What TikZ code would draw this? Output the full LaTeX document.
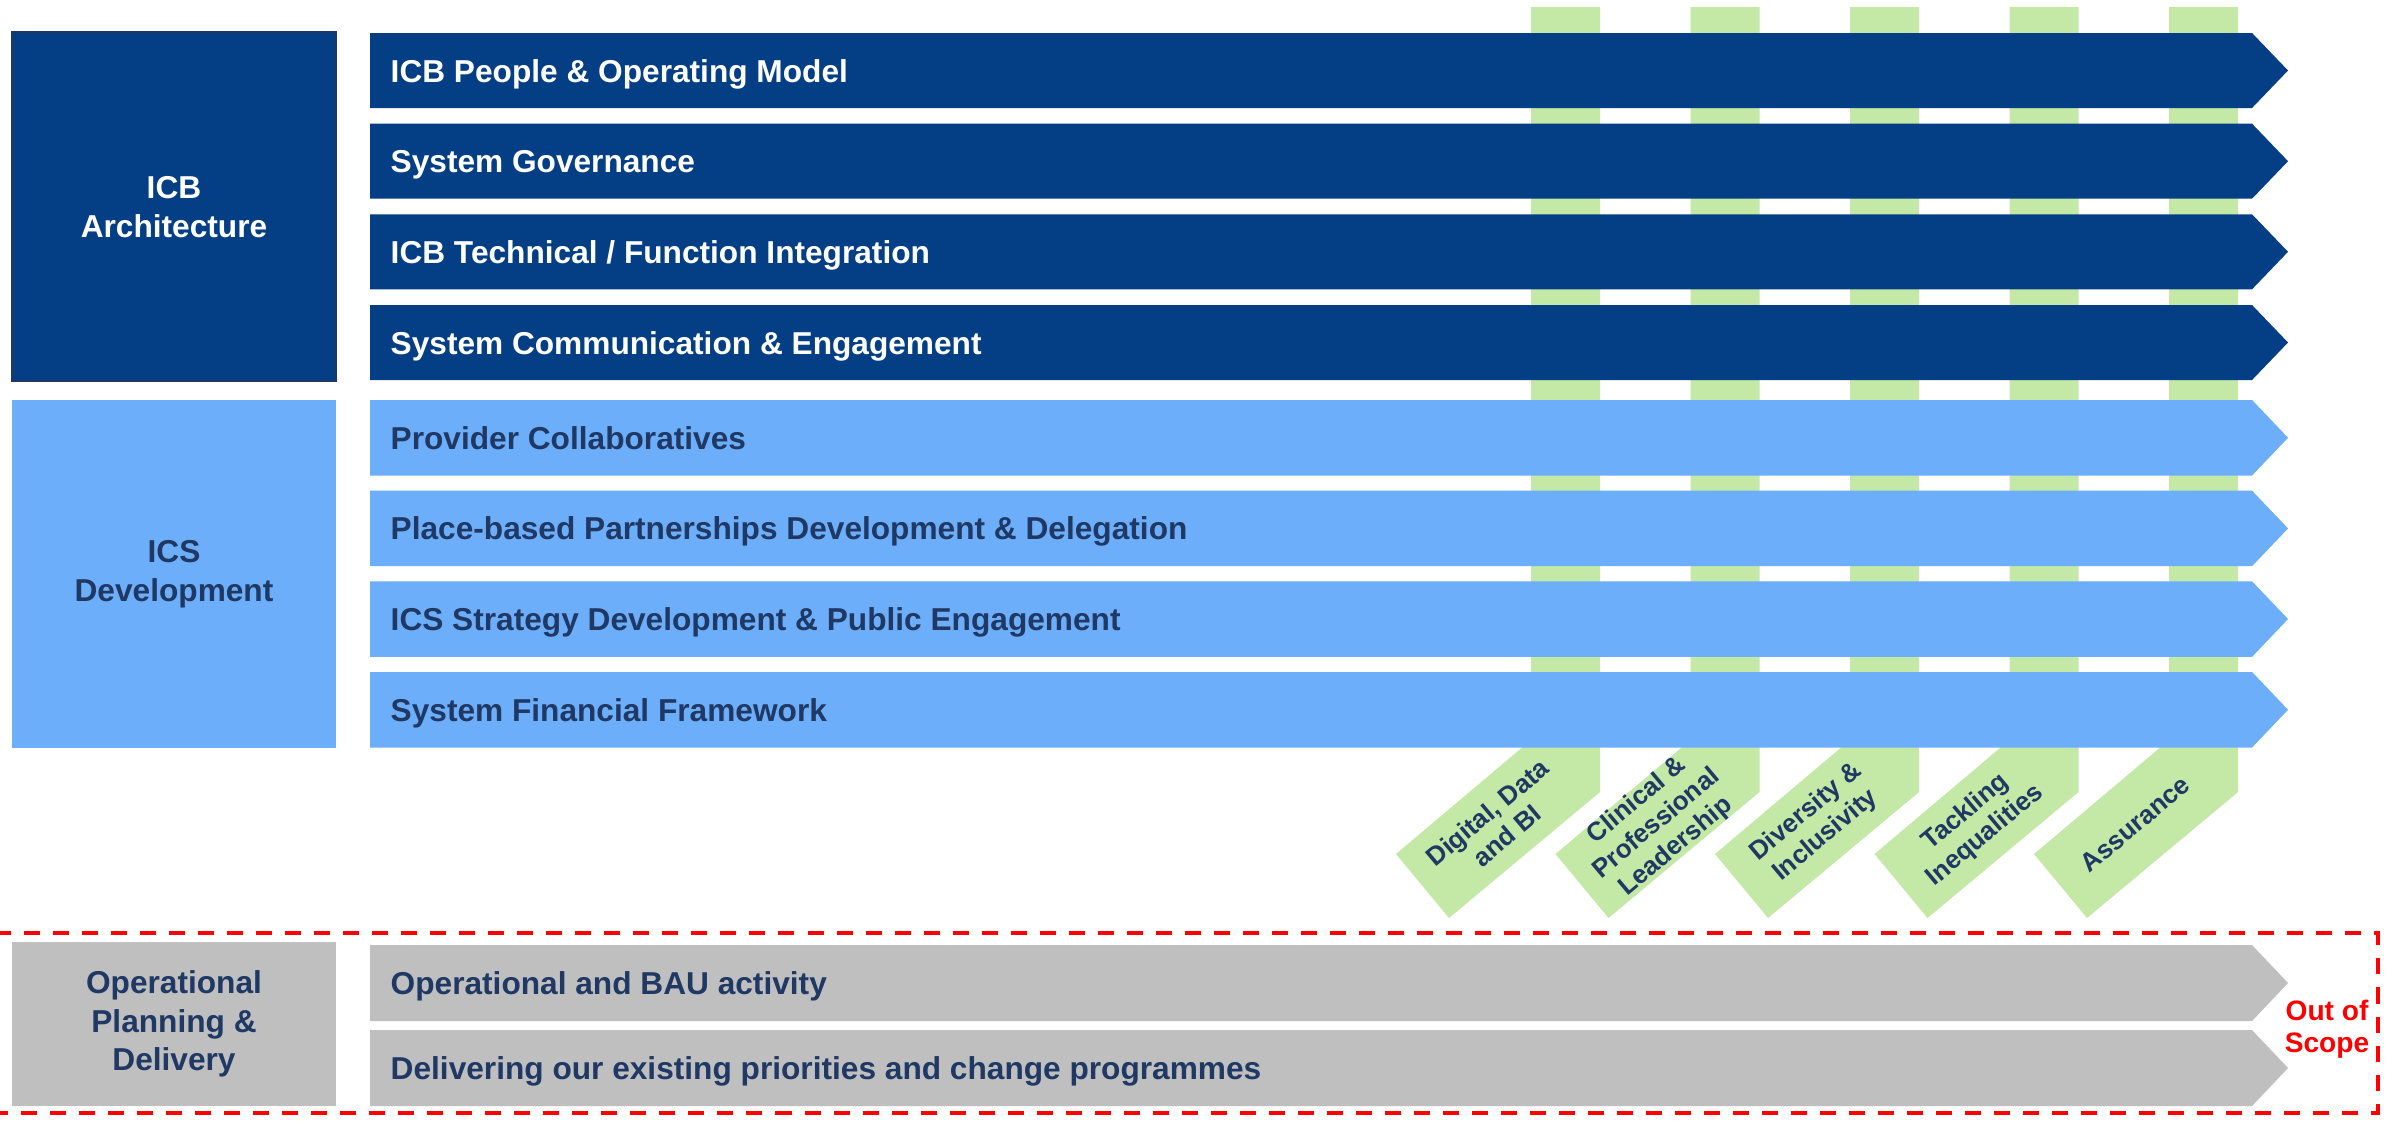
\documentclass[tikz,border=0pt]{standalone}
\usepackage{fontspec}
\setmainfont{Liberation Sans}
\definecolor{darkb}{RGB}{4,62,132}
\definecolor{lightb}{RGB}{108,174,250}
\definecolor{greenc}{RGB}{196,232,166}
\definecolor{grayc}{RGB}{191,191,191}
\definecolor{navy}{RGB}{31,56,100}
\definecolor{redc}{RGB}{255,0,0}
\newcommand{\rowarrow}[3]{\fill[#3] (370,#1) -- (2252,#1) -- (2288,#1+#2/2) -- (2252,#1+#2) -- (370,#1+#2) -- cycle;}
\begin{document}
\begin{tikzpicture}[x=0.01cm,y=-0.01cm,
  mainfont/.style={font=\bfseries\fontsize{9pt}{10.95pt}\selectfont},
  rowtext/.style={mainfont, anchor=base west, inner sep=0pt},
  boxtext/.style={mainfont, align=center, inner sep=0pt},
  lbltext/.style={font=\bfseries\fontsize{7.4pt}{8.6pt}\selectfont, align=center, inner sep=0pt, text=navy, rotate=40},
  oos/.style={font=\bfseries\fontsize{8pt}{9.2pt}\selectfont, align=center, inner sep=0pt, text=redc}]
\useasboundingbox (0,0) rectangle (2389,1124);
\fill[white] (0,0) rectangle (2389,1124);
% green bars
\foreach \k in {0,...,4}{
  \fill[greenc, shift={(\k*159.5,0)}] (1531,7) -- (1600,7) -- (1600,792) -- (1449,918) -- (1396,854) -- (1531,740) -- cycle;
}
% left boxes
\filldraw[fill=darkb, draw=navy, line width=0.015cm] (12,32) rectangle (336,381);
\node[boxtext, text=white] (icb) at (174,207) {ICB\\Architecture};
\fill[lightb] (12,400) rectangle (336,748);
\node[boxtext, text=navy] (ics) at (174,574) {ICS\\Development};
\fill[grayc] (12,942) rectangle (336,1106);
\node[boxtext, text=navy] (opd) at (174,1024) {Operational\\Planning \&\\Delivery};
% dark arrows
\rowarrow{33}{75}{darkb}
\rowarrow{123.7}{75}{darkb}
\rowarrow{214.3}{75}{darkb}
\rowarrow{305}{75}{darkb}
\node[rowtext, text=white] (a1) at (390,82) {ICB People \& Operating Model};
\node[rowtext, text=white] (a2) at (390,172.7) {System Governance};
\node[rowtext, text=white] (a3) at (390,263.3) {ICB Technical / Function Integration};
\node[rowtext, text=white] (a4) at (390,354) {System Communication \& Engagement};
% light arrows
\rowarrow{400}{75.5}{lightb}
\rowarrow{490.7}{75.5}{lightb}
\rowarrow{581.3}{75.5}{lightb}
\rowarrow{672}{75.5}{lightb}
\node[rowtext, text=navy] (b1) at (390,449) {Provider Collaboratives};
\node[rowtext, text=navy] (b2) at (390,539.7) {Place-based Partnerships Development \& Delegation};
\node[rowtext, text=navy] (b3) at (390,630.3) {ICS Strategy Development \& Public Engagement};
\node[rowtext, text=navy] (b4) at (390,721) {System Financial Framework};
% gray arrows
\rowarrow{945}{76}{grayc}
\rowarrow{1030}{76}{grayc}
\node[rowtext, text=navy] (c1) at (390,994.3) {Operational and BAU activity};
\node[rowtext, text=navy] (c2) at (390,1079.3) {Delivering our existing priorities and change programmes};
% rotated labels
\node[lbltext] (l1) at (1497,824) {Digital, Data\\and BI};
\node[lbltext] (l2) at (1656.5,824) {Clinical \&\\Professional\\Leadership};
\node[lbltext] (l3) at (1816,824) {Diversity \&\\Inclusivity};
\node[lbltext] (l4) at (1975.5,824) {Tackling\\Inequalities};
\node[lbltext] (l5) at (2135,824) {Assurance};
% out of scope
\draw[redc, line width=0.04cm, dash pattern=on 0.16cm off 0.13cm] (-5,933) -- (2378,933) -- (2378,1113) -- (-5,1113);
\node[oos] (scope) at (2327,1029) {Out of\\Scope};
\end{tikzpicture}
\end{document}
